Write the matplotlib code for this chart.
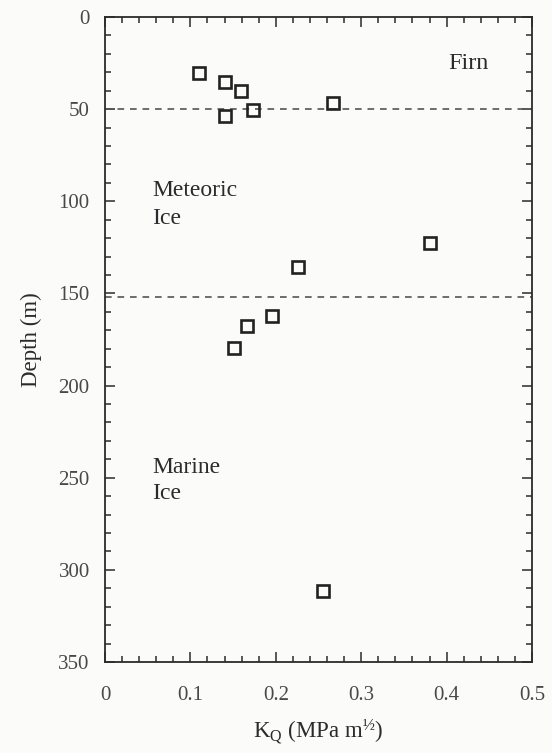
import matplotlib
matplotlib.use('Agg')
import matplotlib.pyplot as plt
from matplotlib.ticker import MultipleLocator, FuncFormatter

plt.rcParams['font.family'] = ['Liberation Serif', 'DejaVu Serif']
plt.rcParams['mathtext.fontset'] = 'custom'
plt.rcParams['mathtext.rm'] = 'Liberation Serif'
plt.rcParams['mathtext.it'] = 'Liberation Serif'

# data
kq = [0.110, 0.140, 0.159, 0.173, 0.140, 0.267, 0.381, 0.226, 0.196, 0.166, 0.151, 0.255]
depth = [30.5, 35, 40, 50.5, 53.5, 46.5, 122.5, 135.5, 162, 167.5, 179.5, 311.5]
boundaries = [50, 152]

ink = '#2b2b2b'

fig = plt.figure(figsize=(5.52, 7.53), dpi=100, facecolor='#fbfbfa')
ax = fig.add_axes([105 / 552, 1 - 662 / 753, 427 / 552, 645 / 753])
ax.set_facecolor('#fbfbfa')

for b in boundaries:
    ax.axhline(b, color='#555555', lw=1.2, ls=(0, (4, 3.5)))

ax.plot(kq, depth, ls='none', marker='s', ms=8.5, mfc='none', mec='#222222', mew=1.9)

ax.set_xlim(0, 0.5)
ax.set_ylim(350, 0)
ax.xaxis.set_major_locator(MultipleLocator(0.1))
ax.xaxis.set_minor_locator(MultipleLocator(0.02))
ax.yaxis.set_major_locator(MultipleLocator(50))
ax.yaxis.set_minor_locator(MultipleLocator(10))
ax.xaxis.set_major_formatter(FuncFormatter(lambda v, p: '0' if abs(v) < 1e-9 else f'{v:.1f}'))

ax.tick_params(which='both', direction='in', top=True, right=True, color=ink, width=1.1,
               labelsize=15, labelcolor='#484848')
ax.tick_params(which='major', length=7)
ax.tick_params(which='minor', length=4)
ax.tick_params(axis='x', which='major', pad=17)
ax.tick_params(axis='y', which='major', pad=11)
for s in ax.spines.values():
    s.set_color(ink)
    s.set_linewidth(1.3)

ax.set_ylabel('Depth (m)', fontsize=16.5, color=ink, labelpad=12)
ax.set_xlabel(r'K$_{\mathrm{Q}}$ (MPa m$^{\mathrm{½}}$)', fontsize=16.5, color=ink, labelpad=9)

ax.text(0.402, 25.5, 'Firn', fontsize=17.5, color=ink, va='center')
ax.text(0.055, 94, 'Meteoric', fontsize=17, color=ink, va='center')
ax.text(0.055, 109.5, 'Ice', fontsize=17, color=ink, va='center')
ax.text(0.055, 244.5, 'Marine', fontsize=17, color=ink, va='center')
ax.text(0.055, 258.5, 'Ice', fontsize=17, color=ink, va='center')

fig.savefig('out.png', dpi=100, facecolor=fig.get_facecolor())
